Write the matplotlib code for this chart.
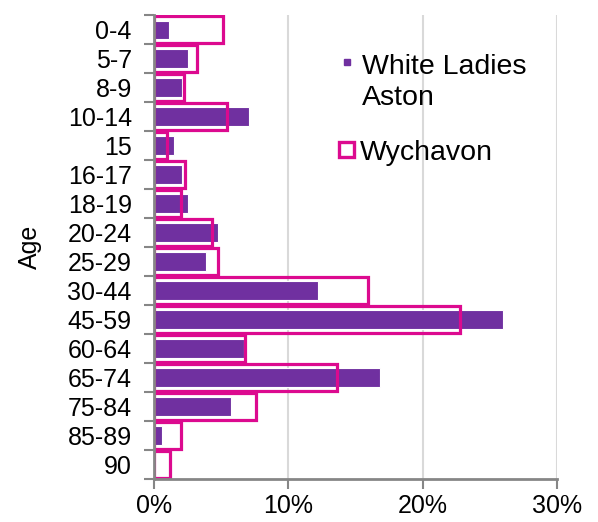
import numpy as np
import matplotlib.pyplot as plt
from matplotlib.lines import Line2D

plt.rcParams['font.family'] = ['Liberation Sans', 'DejaVu Sans']

ages = ['0-4', '5-7', '8-9', '10-14', '15', '16-17', '18-19', '20-24', '25-29',
        '30-44', '45-59', '60-64', '65-74', '75-84', '85-89', '90']
white_ladies_aston = [1.1, 2.5, 2.1, 7.1, 1.5, 2.1, 2.5, 4.8, 3.9,
                      12.2, 26.0, 6.7, 16.8, 5.7, 0.6, 0.0]
wychavon = [5.1, 3.2, 2.2, 5.4, 1.0, 2.3, 2.0, 4.3, 4.8,
            15.9, 22.8, 6.8, 13.6, 7.6, 2.0, 1.2]

purple = '#7030A0'
pink = '#DC0A8F'
axis_grey = '#868686'

fig = plt.figure(figsize=(5.98, 5.22), dpi=100)
ax = fig.add_axes([0.2575, 0.0824, 0.674, 0.8886])

y = np.arange(len(ages))
ax.barh(y, white_ladies_aston, height=0.63, color=purple, edgecolor='white',
        linewidth=0.8, zorder=2)
ax.barh(y, wychavon, height=0.93, facecolor='none', edgecolor=pink,
        linewidth=2.3, zorder=3)

ax.set_xlim(0, 30)
ax.set_ylim(len(ages) - 0.5, -0.5)
ax.set_xticks([0, 10, 20, 30])
ax.set_xticklabels(['0%', '10%', '20%', '30%'])
ax.set_yticks(y)
ax.set_yticklabels(ages)
ax.set_yticks(np.arange(-0.5, len(ages)), minor=True)
ax.tick_params(axis='y', which='major', length=0, pad=16, labelsize=18)
ax.tick_params(axis='y', which='minor', length=7, width=1.5, color=axis_grey)
ax.tick_params(axis='x', length=7, width=1.5, color=axis_grey, labelsize=18, pad=4)

ax.grid(axis='x', color='#D9D9D9', linewidth=1.5, zorder=0)
ax.set_axisbelow(True)
for s in ['top', 'right']:
    ax.spines[s].set_visible(False)
for s in ['left', 'bottom']:
    ax.spines[s].set_color(axis_grey)
    ax.spines[s].set_linewidth(2)
    ax.spines[s].set_zorder(4)

ax.set_ylabel('Age', fontsize=18, labelpad=18)

# legend, laid out by hand to keep the marker beside the first line
fig.add_artist(Line2D([0.5803], [0.8812], marker='s', markersize=4.3,
                      color=purple, linestyle='none'))
fig.add_artist(Line2D([0.5791], [0.7146], marker='s', markersize=10.8,
                      markerfacecolor='white', markeredgecolor=pink,
                      markeredgewidth=2.4, linestyle='none'))
fig.text(0.6054, 0.8582, 'White Ladies', fontsize=20.5, va='baseline')
fig.text(0.6054, 0.7989, 'Aston', fontsize=20.5, va='baseline')
fig.text(0.602, 0.6935, 'Wychavon', fontsize=20.5, va='baseline')

plt.savefig('out.png', dpi=100)
